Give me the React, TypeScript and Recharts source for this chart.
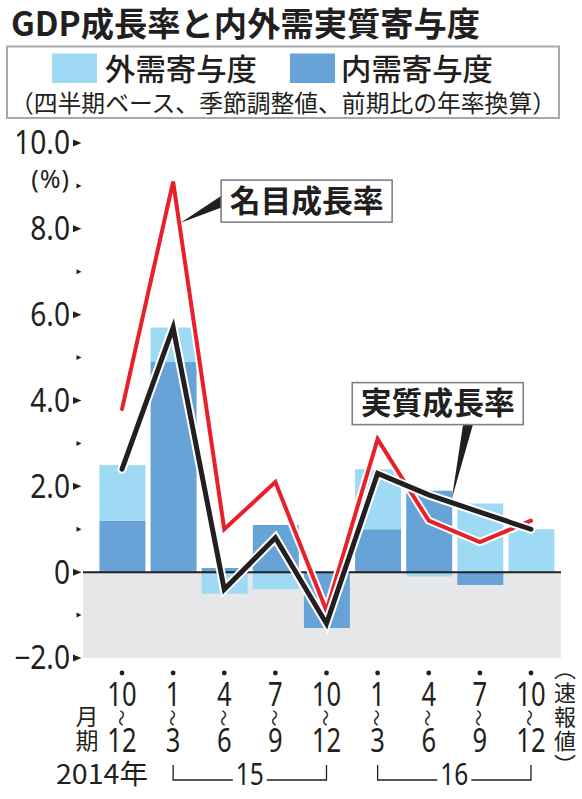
import React from 'react'
import {
  ComposedChart,
  Bar,
  Line,
  XAxis,
  YAxis,
  ReferenceArea,
  ReferenceLine,
  ReferenceDot
} from 'recharts'

// quarters: 2014 Oct-Dec .. 2016 Oct-Dec
const startMonths = ['10', '1', '4', '7', '10', '1', '4', '7', '10']
const endMonths = ['12', '3', '6', '9', '12', '3', '6', '9', '12']
const externalDemand = [1.3, 0.8, -0.5, -0.4, 0.0, 1.4, -0.1, 1.6, 1.0]
const internalDemand = [1.2, 4.9, 0.1, 1.1, -1.3, 1.0, 1.9, -0.3, 0.0]
const realGrowth = [2.4, 5.7, -0.4, 0.8, -1.2, 2.3, 1.8, 1.4, 1.0]
const nominalGrowth = [3.8, 9.1, 1.0, 2.1, -0.9, 3.1, 1.2, 0.7, 1.2]

const yMajorTicks = [-2, 0, 2, 4, 6, 8, 10]
const yMajorLabels = ['−2.0', '0', '2.0', '4.0', '6.0', '8.0', '10.0']
const yMinorTicks = [-1, 1, 3, 5, 7, 9]
const yearGroups = [
  { label: '15', from: 1, to: 4 },
  { label: '16', from: 5, to: 8 }
]

const data = startMonths.map((m, i) => ({
  idx: i,
  internal: internalDemand[i],
  external: externalDemand[i],
  real: realGrowth[i],
  nominal: nominalGrowth[i]
}))

const INK = '#231f20'
const RED = '#e8202a'
const LIGHT = '#9fdaf5'
const DARK = '#67a3d6'
const GRAY = '#e6e7e8'
const JP = '"Noto Sans CJK JP", "Noto Sans", sans-serif'
const NUM = '"Noto Sans", sans-serif'

// condensed number text, y = baseline
function NumText({ x, y, size, anchor = 'middle', sx = 0.82, children }: any) {
  return (
    <text
      transform={`translate(${x},${y}) scale(${sx},1)`}
      fontSize={size}
      fontFamily={NUM}
      textAnchor={anchor}
      fill={INK}
    >
      {children}
    </text>
  )
}

function YTick(props: any) {
  const { x, y, payload } = props
  const v = payload.value
  const mi = yMajorTicks.indexOf(v)
  if (mi >= 0) {
    return (
      <g>
        <polygon points={`${x - 10},${y - 3.5} ${x - 10},${y + 3.5} ${x - 1.5},${y}`} fill={INK} />
        <NumText x={x - 13} y={y + 11.4} size={32} anchor="end" sx={0.88}>
          {yMajorLabels[mi]}
        </NumText>
      </g>
    )
  }
  return (
    <g>
      <polygon points={`${x - 6.5},${y - 2.5} ${x - 6.5},${y + 2.5} ${x - 1.5},${y}`} fill={INK} />
      {v === 9 && (
        <text x={x - 13} y={y + 2} fontSize={25} fontFamily={NUM} textAnchor="end" fill={INK} letterSpacing={1}>
          (%)
        </text>
      )}
    </g>
  )
}

const tickXs: number[] = []

function XTick(props: any) {
  const { x, y, payload } = props
  const i = payload.value as number
  tickXs[i] = x
  const group = yearGroups.find((g) => g.to === i)
  const isLast = i === startMonths.length - 1
  return (
    <g>
      <circle cx={x} cy={y + 15} r={2.4} fill={INK} />
      <NumText x={x} y={y + 48} size={32} sx={0.8}>
        {startMonths[i]}
      </NumText>
      <text
        transform={`translate(${x},${y + 60}) rotate(90)`}
        fontSize={17}
        fontFamily={JP}
        textAnchor="middle"
        dominantBaseline="central"
        fill={INK}
      >
        〜
      </text>
      <NumText x={x} y={y + 94} size={32} sx={0.8}>
        {endMonths[i]}
      </NumText>
      {i === 0 && (
        <g>
          <text x={x - 35} y={y + 58 + 9} fontSize={23} fontFamily={JP} textAnchor="middle" fill={INK}>
            月
          </text>
          <text x={x - 35} y={y + 82 + 9} fontSize={23} fontFamily={JP} textAnchor="middle" fill={INK}>
            期
          </text>
          <text
            x={x + 26}
            y={y + 116 + 10}
            fontSize={27}
            fontFamily={JP}
            textAnchor="end"
            fill={INK}
            textLength={92}
            lengthAdjust="spacingAndGlyphs"
          >
            2014年
          </text>
        </g>
      )}
      {group && tickXs[group.from] !== undefined && (
        <g>
          <path
            d={`M${tickXs[group.from]},${y + 107} V${y + 122} H${(tickXs[group.from] + x) / 2 - 17} M${(tickXs[group.from] + x) / 2 + 17},${y + 122} H${x} V${y + 107}`}
            fill="none"
            stroke={INK}
            strokeWidth={1.3}
          />
          <NumText x={(tickXs[group.from] + x) / 2} y={y + 127} size={30} sx={0.82}>
            {group.label}
          </NumText>
        </g>
      )}
      {isLast &&
        ['︵', '速', '報', '値', '︶'].map((c, k) => (
          <text
            key={k}
            x={x + 34}
            y={y + 11 + k * 24 + 8}
            fontSize={22}
            fontFamily={JP}
            textAnchor="middle"
            fill={INK}
          >
            {c}
          </text>
        ))}
    </g>
  )
}

function NominalCallout(props: any) {
  const { cx, cy } = props
  const bx = cx + 48
  const by = cy - 1.5
  return (
    <g>
      <polygon points={`${cx + 7.5},${cy + 41} ${bx + 1},${by + 15} ${bx + 1},${by + 27}`} fill={INK} />
      <rect x={bx} y={by} width={171} height={42} fill="#fff" stroke="#808285" strokeWidth={1.6} />
      <text
        x={bx + 85.5}
        y={by + 20 + 11.8}
        fontSize={31}
        fontWeight={700}
        fontFamily={JP}
        textAnchor="middle"
        fill={INK}
        textLength={154}
        lengthAdjust="spacingAndGlyphs"
      >
        名目成長率
      </text>
    </g>
  )
}

function RealCallout(props: any) {
  const { cx, cy } = props
  const bx = cx - 76.5
  const by = cy - 112.3
  return (
    <g>
      <polygon points={`${cx + 23},${cy + 4} ${bx + 111},${by + 41} ${bx + 121},${by + 41}`} fill={INK} />
      <rect x={bx} y={by} width={171} height={42} fill="#fff" stroke="#808285" strokeWidth={1.6} />
      <text
        x={bx + 85.5}
        y={by + 20 + 11.8}
        fontSize={31}
        fontWeight={700}
        fontFamily={JP}
        textAnchor="middle"
        fill={INK}
        textLength={154}
        lengthAdjust="spacingAndGlyphs"
      >
        実質成長率
      </text>
    </g>
  )
}

function Header() {
  return (
    <svg width={582} height={125} style={{ position: 'absolute', left: 0, top: 0 }}>
      <text
        x={11}
        y={36}
        fontSize={33}
        fontWeight={700}
        fontFamily={JP}
        fill={INK}
        textLength={469}
        lengthAdjust="spacingAndGlyphs"
      >
        GDP成長率と内外需実質寄与度
      </text>
      <rect x={7} y={46.5} width={552} height={71.5} fill="#fff" stroke="#a7a9ac" strokeWidth={2} />
      <rect x={52} y={53.5} width={45} height={29.5} fill={LIGHT} />
      <text
        x={105}
        y={79.5}
        fontSize={30}
        fontWeight={500}
        fontFamily={JP}
        fill={INK}
        textLength={152}
        lengthAdjust="spacingAndGlyphs"
      >
        外需寄与度
      </text>
      <rect x={290} y={53.5} width={45} height={29.5} fill={DARK} />
      <text
        x={341}
        y={79.5}
        fontSize={30}
        fontWeight={500}
        fontFamily={JP}
        fill={INK}
        textLength={152}
        lengthAdjust="spacingAndGlyphs"
      >
        内需寄与度
      </text>
      <text
        x={10}
        y={112}
        fontSize={24}
        fontFamily={JP}
        fill={INK}
        textLength={546}
        lengthAdjust="spacingAndGlyphs"
      >
        （四半期ベース、季節調整値、前期比の年率換算）
      </text>
    </svg>
  )
}

export default function App() {
  return (
    <div style={{ position: 'absolute', left: 0, top: 0, width: 582, height: 799, background: '#fff' }}>
      <div style={{ position: 'absolute', left: 0, top: 0 }}>
        <ComposedChart
          width={582}
          height={799}
          data={data}
          stackOffset="sign"
          margin={{ top: 143, right: 21, bottom: 0, left: 0 }}
        >
          <XAxis
            dataKey="idx"
            type="number"
            domain={[-0.763, 8.587]}
            allowDataOverflow
            ticks={startMonths.map((_, i) => i)}
            interval={0}
            height={141}
            axisLine={false}
            tickLine={false}
            tickSize={0}
            tickMargin={0}
            tick={(p: any) => <XTick {...p} />}
          />
          <YAxis
            type="number"
            domain={[-2, 10]}
            allowDataOverflow
            ticks={[...yMajorTicks, ...yMinorTicks].sort((a, b) => a - b)}
            interval={0}
            width={83}
            axisLine={false}
            tickLine={false}
            tickSize={0}
            tickMargin={0}
            tick={(p: any) => <YTick {...p} />}
          />
          <ReferenceArea y1={-2} y2={0} fill={GRAY} fillOpacity={1} stroke="none" />
          <Bar dataKey="internal" stackId="d" fill={DARK} barSize={46} isAnimationActive={false} />
          <Bar dataKey="external" stackId="d" fill={LIGHT} barSize={46} isAnimationActive={false} />
          <ReferenceLine y={0} stroke={INK} strokeWidth={2} />
          <Line dataKey="nominal" type="linear" stroke="#fff" strokeWidth={8} dot={false} activeDot={false} strokeLinecap="round" isAnimationActive={false} />
          <Line dataKey="nominal" type="linear" stroke={RED} strokeWidth={4} dot={false} activeDot={false} strokeLinecap="round" isAnimationActive={false} />
          <Line dataKey="real" type="linear" stroke="#fff" strokeWidth={9} dot={false} activeDot={false} strokeLinecap="round" isAnimationActive={false} />
          <Line dataKey="real" type="linear" stroke={INK} strokeWidth={5} dot={false} activeDot={false} strokeLinecap="round" isAnimationActive={false} />
          <ReferenceDot x={1} y={nominalGrowth[1]} r={0} shape={(p: any) => <NominalCallout {...p} />} />
          <ReferenceDot x={6} y={realGrowth[6]} r={0} shape={(p: any) => <RealCallout {...p} />} />
        </ComposedChart>
      </div>
      <Header />
    </div>
  )
}
